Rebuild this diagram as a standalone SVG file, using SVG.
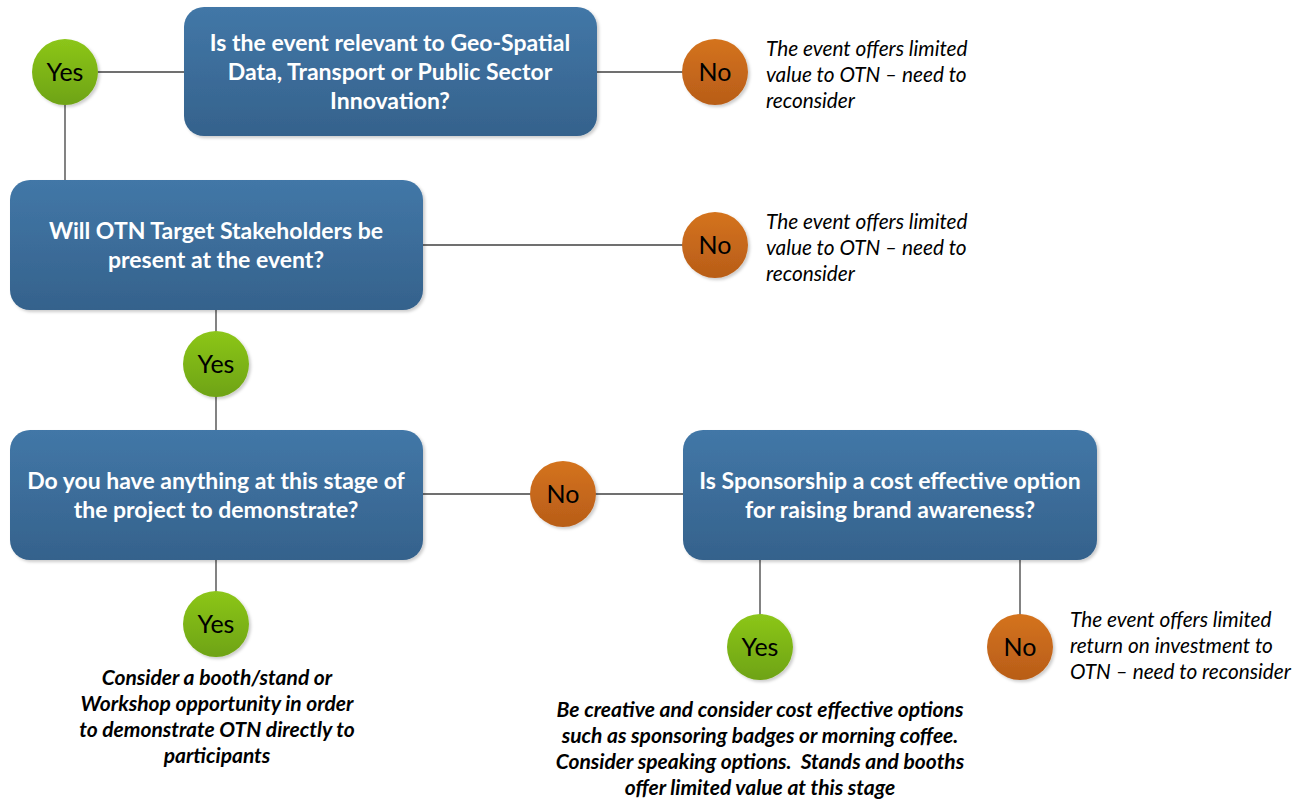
<svg xmlns="http://www.w3.org/2000/svg" width="1301" height="799" viewBox="0 0 1301 799">
<defs>
<linearGradient id="gBox" x1="0" y1="0" x2="0" y2="1"><stop offset="0" stop-color="#4277a7"/><stop offset="1" stop-color="#35628c"/></linearGradient>
<linearGradient id="gYes" x1="0" y1="0" x2="0" y2="1"><stop offset="0" stop-color="#8cc61a"/><stop offset="1" stop-color="#6ea312"/></linearGradient>
<linearGradient id="gNo" x1="0" y1="0" x2="0" y2="1"><stop offset="0" stop-color="#d4731e"/><stop offset="1" stop-color="#b85d18"/></linearGradient>
<filter id="sh" x="-10%" y="-10%" width="125%" height="125%"><feDropShadow dx="2" dy="2" stdDeviation="1.5" flood-color="#000" flood-opacity="0.2"/></filter>
</defs>
<style>
.box{fill:url(#gBox);filter:url(#sh)}
.yes{fill:url(#gYes);filter:url(#sh)}
.no{fill:url(#gNo);filter:url(#sh)}
.bt{font-family:Lato,"Open Sans",sans-serif;font-weight:bold;font-size:23px;fill:#fff;text-anchor:middle}
.ct{font-family:Lato,"Open Sans",sans-serif;font-size:25px;fill:#000;text-anchor:middle}
.it{font-family:Lato,"Open Sans",sans-serif;font-style:italic;font-size:20.8px;fill:#000}
.bi{font-family:Lato,"Open Sans",sans-serif;font-style:italic;font-weight:bold;font-size:21px;fill:#000;text-anchor:middle}
.ln{stroke:#404040;stroke-width:1.3;fill:none}
</style>
<g id="connectors">
<line class="ln" x1="98" y1="72" x2="184" y2="72"/>
<line class="ln" x1="65" y1="105" x2="65" y2="181"/>
<line class="ln" x1="596" y1="72" x2="683" y2="72"/>
<line class="ln" x1="422" y1="245" x2="683" y2="245"/>
<line class="ln" x1="216" y1="309" x2="216" y2="332"/>
<line class="ln" x1="216" y1="396" x2="216" y2="431"/>
<line class="ln" x1="422" y1="494" x2="531" y2="494"/>
<line class="ln" x1="595" y1="494" x2="684" y2="494"/>
<line class="ln" x1="216" y1="559" x2="216" y2="592"/>
<line class="ln" x1="760" y1="559" x2="760" y2="615"/>
<line class="ln" x1="1020" y1="559" x2="1020" y2="615"/>
</g>
<g id="q1"><rect class="box" x="184" y="7" width="413" height="129" rx="20"/>
<text class="bt"><tspan x="390" y="51">Is the event relevant to Geo-Spatial</tspan><tspan x="390" y="80">Data, Transport or Public Sector</tspan><tspan x="390" y="109">Innovation?</tspan></text></g>
<g id="q2"><rect class="box" x="10" y="180" width="413" height="130" rx="20"/>
<text class="bt"><tspan x="216" y="239">Will OTN Target Stakeholders be</tspan><tspan x="216" y="268">present at the event?</tspan></text></g>
<g id="q3"><rect class="box" x="10" y="430" width="413" height="130" rx="20"/>
<text class="bt"><tspan x="216" y="489">Do you have anything at this stage of</tspan><tspan x="216" y="518">the project to demonstrate?</tspan></text></g>
<g id="q4"><rect class="box" x="683" y="430" width="414" height="130" rx="20"/>
<text class="bt"><tspan x="890" y="489">Is Sponsorship a cost effective option</tspan><tspan x="890" y="518">for raising brand awareness?</tspan></text></g>
<g id="yes1"><ellipse class="yes" cx="65" cy="72" rx="33" ry="33"/><text class="ct" x="65" y="81">Yes</text></g>
<g id="no1"><circle class="no" cx="715" cy="72" r="33"/><text class="ct" x="715" y="81">No</text></g>
<g id="no2"><circle class="no" cx="715" cy="245" r="33"/><text class="ct" x="715" y="254">No</text></g>
<g id="yes2"><circle class="yes" cx="216" cy="364" r="33"/><text class="ct" x="216" y="373">Yes</text></g>
<g id="no3"><circle class="no" cx="563" cy="494" r="33"/><text class="ct" x="563" y="503">No</text></g>
<g id="yes3"><circle class="yes" cx="216" cy="624" r="33"/><text class="ct" x="216" y="633">Yes</text></g>
<g id="yes4"><circle class="yes" cx="760" cy="647" r="33"/><text class="ct" x="760" y="656">Yes</text></g>
<g id="no4"><circle class="no" cx="1020" cy="647" r="33"/><text class="ct" x="1020" y="656">No</text></g>
<g id="t1"><text class="it"><tspan x="766" y="56">The event offers limited</tspan><tspan x="766" y="82">value to OTN – need to</tspan><tspan x="766" y="108">reconsider</tspan></text></g>
<g id="t2"><text class="it"><tspan x="766" y="229">The event offers limited</tspan><tspan x="766" y="255">value to OTN – need to</tspan><tspan x="766" y="281">reconsider</tspan></text></g>
<g id="t3"><text class="it"><tspan x="1070" y="627">The event offers limited</tspan><tspan x="1070" y="653">return on investment to</tspan><tspan x="1070" y="679">OTN – need to reconsider</tspan></text></g>
<g id="t4"><text class="bi"><tspan x="217" y="685">Consider a booth/stand or</tspan><tspan x="217" y="711">Workshop opportunity in order</tspan><tspan x="217" y="737">to demonstrate OTN directly to</tspan><tspan x="217" y="763">participants</tspan></text></g>
<g id="t5"><text class="bi"><tspan x="760" y="717">Be creative and consider cost effective options</tspan><tspan x="760" y="743">such as sponsoring badges or morning coffee.</tspan><tspan x="760" y="769">Consider speaking options.&#160; Stands and booths</tspan><tspan x="760" y="795">offer limited value at this stage</tspan></text></g>
</svg>
